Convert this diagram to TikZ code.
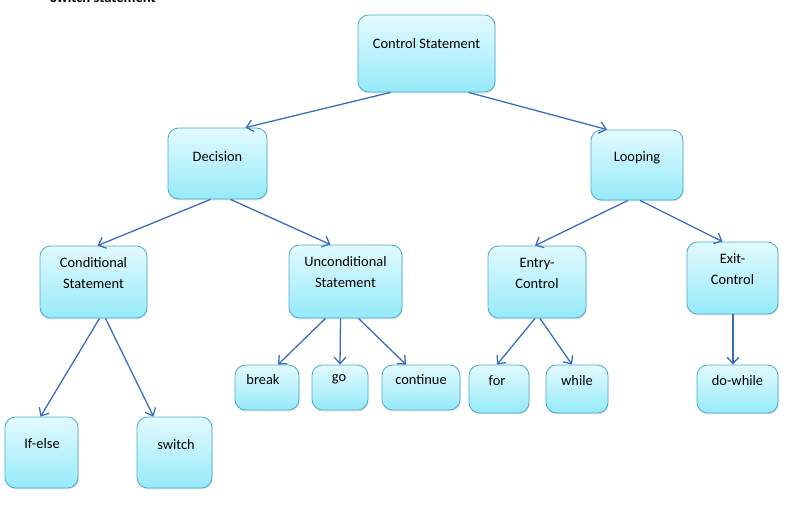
\documentclass[tikz,border=0pt]{standalone}
\usepackage{fontspec}
\setmainfont{Carlito}
\usetikzlibrary{positioning,calc,arrows.meta,shadows}

\definecolor{boxline}{RGB}{75,172,198}
\definecolor{boxtop}{RGB}{226,250,255}
\definecolor{boxbot}{RGB}{150,234,250}
\definecolor{linkblue}{RGB}{56,108,194}

\tikzset{
    box/.style={rectangle, rounded corners=9pt, draw=boxline, line width=0.7pt,
        top color=boxtop, bottom color=boxbot,
        drop shadow={opacity=0.22, shadow xshift=0.6pt, shadow yshift=-1.2pt}},
    txt/.style={font=\fontsize{12.3}{14}\selectfont, align=center, inner sep=0pt},
    link/.style={draw=linkblue, line width=1.1pt, -{Straight Barb[length=5.5pt,width=10pt]}}
}

\begin{document}
\begin{tikzpicture}[x=0.03cm, y=-0.03cm]
    \useasboundingbox (0,0) rectangle (797,504);
    % caption cut at the top edge
    \node[font=\bfseries\fontsize{12.5}{14}\selectfont, anchor=west] (cap) at (46,-3) {Switch statement};

    % boxes
    \node[box, minimum width=137*0.03cm, minimum height=77*0.03cm] (ctrl) at (426.5,53.5) {};
    \node[box, minimum width=99*0.03cm, minimum height=71*0.03cm] (dec) at (217.5,163.5) {};
    \node[box, minimum width=92*0.03cm, minimum height=70*0.03cm] (loop) at (637,165) {};
    \node[box, minimum width=107*0.03cm, minimum height=72*0.03cm] (cond) at (93.5,282) {};
    \node[box, minimum width=113*0.03cm, minimum height=73*0.03cm] (unc) at (345.5,281.5) {};
    \node[box, minimum width=98*0.03cm, minimum height=72*0.03cm] (entry) at (537,282) {};
    \node[box, minimum width=91*0.03cm, minimum height=72*0.03cm] (exit) at (732.5,278) {};
    \node[box, minimum width=64*0.03cm, minimum height=45*0.03cm] (brk) at (267,387.5) {};
    \node[box, minimum width=56*0.03cm, minimum height=45*0.03cm] (go) at (340,387.5) {};
    \node[box, minimum width=78*0.03cm, minimum height=45*0.03cm] (cont) at (421,387.5) {};
    \node[box, minimum width=60*0.03cm, minimum height=48*0.03cm] (for) at (499,389) {};
    \node[box, minimum width=62*0.03cm, minimum height=48*0.03cm] (while) at (577,389) {};
    \node[box, minimum width=81*0.03cm, minimum height=48*0.03cm] (dowhile) at (737.5,389) {};
    \node[box, minimum width=73*0.03cm, minimum height=71*0.03cm] (ifelse) at (41.5,452.5) {};
    \node[box, minimum width=75*0.03cm, minimum height=71*0.03cm] (switch) at (174.5,452.5) {};

    % texts
    \node[txt] (tctrl) at (426.5,44) {Control Statement};
    \node[txt] (tdec) at (217.5,157) {Decision};
    \node[txt] (tloop) at (637,158) {Looping};
    \node[txt] (tcond) at (93.5,273) {Conditional\\[4pt]Statement};
    \node[txt] (tunc) at (345.5,272) {Unconditional\\[4pt]Statement};
    \node[txt] (tentry) at (537,273) {Entry-\\[4pt]Control};
    \node[txt] (texit) at (732.5,269) {Exit-\\[4pt]Control};
    \node[txt] (tbrk) at (263,380) {break};
    \node[txt] (tgo) at (339,379) {go};
    \node[txt] (tcont) at (421,380) {continue};
    \node[txt] (tfor) at (497,381) {for};
    \node[txt] (twhile) at (577,381) {while};
    \node[txt] (tdowhile) at (737.5,381) {do-while};
    \node[txt] (tifelse) at (42,444) {If-else};
    \node[txt] (tswitch) at (176,445) {switch};

    % connectors
    \draw[link] ($(ctrl.south)+(-36,0)$) -- ($(dec.north)+(28,0)$);
    \draw[link] ($(ctrl.south)+(42,0)$) -- ($(loop.north)+(-30,0)$);
    \draw[link] ($(dec.south)+(-7,0)$) -- ($(cond.north)+(4,0)$);
    \draw[link] ($(dec.south)+(13,0)$) -- ($(unc.north)+(-15,0)$);
    \draw[link] ($(loop.south)+(-9,0)$) -- ($(entry.north)+(-2,0)$);
    \draw[link] ($(loop.south)+(3,0)$) -- ($(exit.north)+(-10,0)$);
    \draw[link] ($(cond.south)+(6,0)$) -- ($(ifelse.north)+(-1,0)$);
    \draw[link] ($(cond.south)+(12,0)$) -- ($(switch.north)+(-21,0)$);
    \draw[link] ($(unc.south)+(-20,0)$) -- ($(brk.north)+(11,0)$);
    \draw[link] ($(unc.south)+(-5,0)$) -- (go.north);
    \draw[link] ($(unc.south)+(13,0)$) -- ($(cont.north)+(-15,0)$);
    \draw[link] ($(entry.south)+(-2,0)$) -- ($(for.north)+(-2,0)$);
    \draw[link] ($(entry.south)+(3,0)$) -- ($(while.north)+(-5,0)$);
    \draw[link] ($(exit.south)+(0.5,0)$) -- ($(dowhile.north)+(-4.5,0)$);
\end{tikzpicture}
\end{document}
